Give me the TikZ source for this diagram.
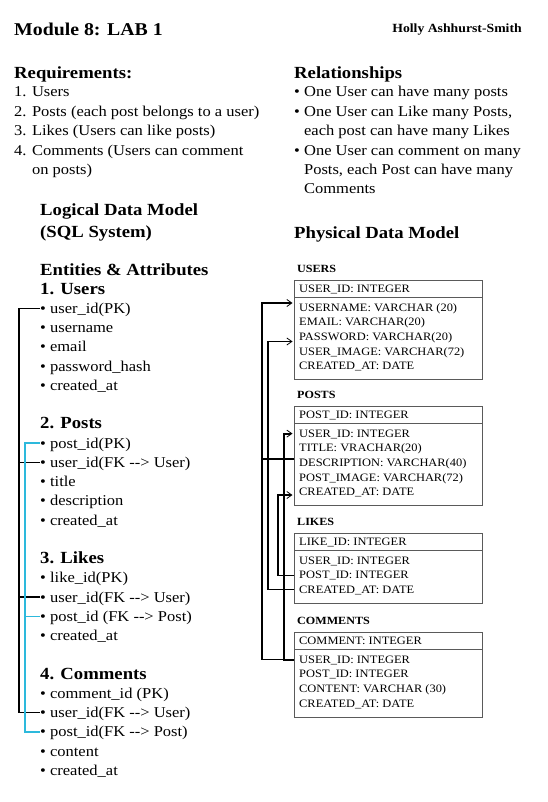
\documentclass[tikz,border=0pt]{standalone}
\usepackage{fontspec}
\setmainfont{Liberation Serif}[FakeStretch=1.1]
\usetikzlibrary{arrows.meta}
\definecolor{fkblue}{RGB}{45,185,220}
\definecolor{boxgray}{RGB}{90,90,90}
\tikzset{
	txt/.style={anchor=base west, inner sep=0pt, align=left, font=\fontsize{15}{19.4}\selectfont},
	hd/.style={anchor=base west, inner sep=0pt, align=left, font=\fontsize{17}{21}\selectfont\bfseries},
	attr/.style={anchor=west, inner sep=0pt, text height=11pt, text depth=1pt, font=\fontsize{15}{19.3}\selectfont},
	ent/.style={attr, font=\fontsize{17}{19.3}\selectfont\bfseries},
	tname/.style={anchor=west, inner sep=0pt, font=\fontsize{11}{13}\selectfont\bfseries},
	tbox/.style={draw=boxgray, line width=0.8pt, anchor=north west, minimum width=188pt, inner sep=0pt},
	tsep/.style={boxgray, line width=0.8pt},
	trow/.style={anchor=west, inner sep=0pt, text height=8pt, text depth=0.5pt, font=\fontsize{11.3}{14}\selectfont},
	uline/.style={line width=1.5pt},
	pline/.style={fkblue, line width=1.5pt},
	rel/.style={line width=1.1pt},
	relto/.style={rel, -{Straight Barb[length=5pt, width=7pt, line width=0.8pt]}, shorten >=1.5pt}
}
\begin{document}
\begin{tikzpicture}[x=1pt, y=1pt]
	\useasboundingbox (0, 0) rectangle (547, -802);
	\node at (14, -36) [anchor=base west, inner sep=0pt, font=\fontsize{18}{20}\selectfont\bfseries] (title) {Module 8: LAB 1};
	\node at (522, -33) [anchor=base east, inner sep=0pt, font=\fontsize{12.5}{14}\selectfont\bfseries] (author) {Holly Ashhurst-Smith};

	% multi-line nodes sit on the baseline of their last line
	\node at (14, -79) [hd] (reqH) {Requirements:};
	\node at (14, -174.6) [txt] (req) {1. Users\\2. Posts (each post belongs to a user)\\3. Likes (Users can like posts)\\4. Comments (Users can comment\\\hphantom{4. }on posts)};
	\node at (294, -79) [hd] (relH) {Relationships};
	\node at (294, -97) [txt] (rel1) {\textbullet\ One User can have many posts};
	\node at (294, -135.8) [txt] (rel2) {\textbullet\ One User can Like many Posts,\\\hphantom{\textbullet\ }each post can have many Likes};
	\node at (294, -194) [txt] (rel3) {\textbullet\ One User can comment on many\\\hphantom{\textbullet\ }Posts, each Post can have many\\\hphantom{\textbullet\ }Comments};

	\node at (40, -237) [hd] (ldm) {Logical Data Model\\(SQL System)};
	\node at (294, -238) [hd] (pdm) {Physical Data Model};

	% logical model
	\node at (40, -270) [ent] (ea) {Entities \& Attributes};
	\node at (40, -289) [ent] (uh) {1. Users};
	\foreach \t [count=\i] in {user\_id(PK), username, email, password\_hash, created\_at}
		\node at (40, -289-19.25*\i) [attr] (u\i) {\textbullet\ \t};
	\node at (40, -423.75) [ent] (ph) {2. Posts};
	\foreach \t [count=\i] in {post\_id(PK), user\_id(FK -\kern0pt-> User), title, description, created\_at}
		\node at (40, -423.75-19.25*\i) [attr] (p\i) {\textbullet\ \t};
	\node at (40, -558.5) [ent] (lh) {3. Likes};
	\foreach \t [count=\i] in {like\_id(PK), user\_id(FK -\kern0pt-> User), post\_id (FK -\kern0pt-> Post), created\_at}
		\node at (40, -558.5-19.25*\i) [attr] (l\i) {\textbullet\ \t};
	\node at (40, -674) [ent] (ch) {4. Comments};
	\foreach \t [count=\i] in {comment\_id (PK), user\_id(FK -\kern0pt-> User), post\_id(FK -\kern0pt-> Post), content, created\_at}
		\node at (40, -674-19.25*\i) [attr] (c\i) {\textbullet\ \t};

	\coordinate (ubus) at (19, 0);
	\coordinate (pbus) at (25, 0);
	\draw[uline] (u1.west) -- (u1.west -| ubus) |- (c2.west);
	\draw[uline] (p2.west) -- (p2.west -| ubus);
	\draw[uline] (l2.west) -- (l2.west -| ubus);
	\draw[pline] (p1.west) -- (p1.west -| pbus) |- (c3.west);
	\draw[pline] (l3.west) -- (l3.west -| pbus);

	% physical model
	\node at (297, -269) [tname] (usersL) {USERS};
	\node at (294, -280) [tbox, minimum height=99pt] (users) {};
	\draw[tsep] ([yshift=-17.5]users.north west) -- ([yshift=-17.5]users.north east);
	\node at (299, -289) [trow] (users0) {USER\_ID: INTEGER};
	\foreach \t [count=\i] in {USERNAME: VARCHAR (20), EMAIL: VARCHAR(20), PASSWORD: VARCHAR(20), USER\_IMAGE: VARCHAR(72), CREATED\_AT: DATE}
		\node at (299, -293-14.6*\i) [trow] (users\i) {\t};

	\node at (297, -395) [tname] (postsL) {POSTS};
	\node at (294, -406) [tbox, minimum height=99pt] (posts) {};
	\draw[tsep] ([yshift=-17.5]posts.north west) -- ([yshift=-17.5]posts.north east);
	\node at (299, -415) [trow] (posts0) {POST\_ID: INTEGER};
	\foreach \t [count=\i] in {USER\_ID: INTEGER, TITLE: VRACHAR(20), DESCRIPTION: VARCHAR(40), POST\_IMAGE: VARCHAR(72), CREATED\_AT: DATE}
		\node at (299, -419-14.6*\i) [trow] (posts\i) {\t};

	\node at (297, -522) [tname] (likesL) {LIKES};
	\node at (294, -533) [tbox, minimum height=70pt] (likes) {};
	\draw[tsep] ([yshift=-17.5]likes.north west) -- ([yshift=-17.5]likes.north east);
	\node at (299, -542) [trow] (likes0) {LIKE\_ID: INTEGER};
	\foreach \t [count=\i] in {USER\_ID: INTEGER, POST\_ID: INTEGER, CREATED\_AT: DATE}
		\node at (299, -546-14.6*\i) [trow] (likes\i) {\t};

	\node at (297, -621) [tname] (commentsL) {COMMENTS};
	\node at (294, -632) [tbox, minimum height=85pt] (comments) {};
	\draw[tsep] ([yshift=-17.5]comments.north west) -- ([yshift=-17.5]comments.north east);
	\node at (299, -641) [trow] (comments0) {COMMENT: INTEGER};
	\foreach \t [count=\i] in {USER\_ID: INTEGER, POST\_ID: INTEGER, CONTENT: VARCHAR (30), CREATED\_AT: DATE}
		\node at (299, -645-14.6*\i) [trow] (comments\i) {\t};

	\draw[relto] (comments1.west -| comments.west) -- ++(-32, 0) |- ([yshift=-23]users.north west);
	\draw[rel, line width=1.8pt] ([yshift=-53]posts.north west) -- ++(-32, 0);
	\draw[relto] (likes3.west -| likes.west) -- ++(-26, 0) |- ([yshift=-61.5]users.north west);
	\draw[relto, line width=1.8pt] (comments1.west -| comments.west) -- ++(-10, 0) |- (posts1.west -| posts.west);
	\draw[relto] (likes2.west -| likes.west) -- ++(-16, 0) |- ([yshift=-89]posts.north west);
\end{tikzpicture}
\end{document}
